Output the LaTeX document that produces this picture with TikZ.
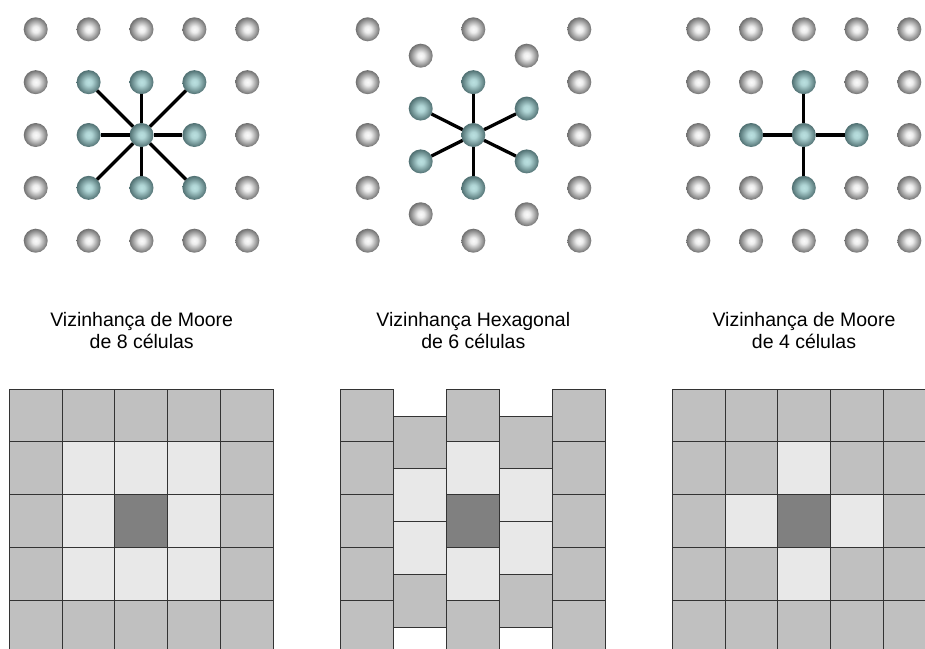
\documentclass[tikz,border=0pt]{standalone}
\usepackage{fontspec}
\setmainfont{Liberation Sans}
\usepackage{tikz}
\definecolor{rim}{RGB}{112,112,112}
\definecolor{core}{RGB}{250,250,250}
\definecolor{tcore}{RGB}{186,224,224}
\definecolor{trim}{RGB}{80,112,114}
\definecolor{cellmid}{RGB}{192,192,192}
\definecolor{celllo}{RGB}{232,232,232}
\definecolor{cellhi}{RGB}{128,128,128}
\pgfdeclareradialshading{greyball}{\pgfpoint{0bp}{0bp}}{color(0bp)=(core); color(7bp)=(core!90!rim); color(25bp)=(rim); color(50bp)=(rim)}
\pgfdeclareradialshading{tealball}{\pgfpoint{0bp}{0bp}}{color(0bp)=(tcore); color(7bp)=(tcore!90!trim); color(25bp)=(trim); color(50bp)=(trim)}

\begin{document}
\begin{tikzpicture}[x=1pt,y=-1pt,
gd/.style={circle,inner sep=0pt,outer sep=0pt,minimum size=24pt,shade,shading=greyball},
td/.style={gd,shading=tealball},
ln/.style={line width=3.3pt,black},
cl/.style={draw=black!80,line width=1pt},
lb/.style={align=center,font=\fontsize{19.5}{22}\selectfont,inner sep=0pt}]
\useasboundingbox (0,0) rectangle (925,648);
\clip (0,0) rectangle (925,648);
% Moore, 8 cells
\foreach \i in {1,...,5}\foreach \j in {1,...,5}{
\pgfmathtruncatemacro\k{max(abs(\i-3),abs(\j-3))}
\ifnum\k<2 \def\sty{td}\else\def\sty{gd}\fi
\node[\sty] (m\i\j) at (35.7+52.9*\i-52.9,29.3+52.85*\j-52.85) {};}
\foreach \i/\j in {2/2,3/2,4/2,2/3,4/3,2/4,3/4,4/4}{\draw[ln] (m33)--(m\i\j);}
% hexagonal, 6 cells
\foreach \i/\x in {1/367.7,3/473.3,5/579.3}\foreach \j in {1,...,5}{
\pgfmathtruncatemacro\k{\i==3 && abs(\j-3)<2}
\ifnum\k=1 \def\sty{td}\else\def\sty{gd}\fi
\node[\sty] (h\i\j) at (\x,29.3+52.85*\j-52.85) {};}
\foreach \i/\x in {2/420.7,4/526.7}\foreach \j in {1,...,4}{
\pgfmathtruncatemacro\k{abs(\j-2.5)<1}
\ifnum\k=1 \def\sty{td}\else\def\sty{gd}\fi
\node[\sty] (h\i\j) at (\x,55.7+52.85*\j-52.85) {};}
\foreach \i/\j in {3/2,3/4,2/2,2/3,4/2,4/3}{\draw[ln] (h33)--(h\i\j);}
% Moore, 4 cells
\foreach \i in {1,...,5}\foreach \j in {1,...,5}{
\pgfmathtruncatemacro\k{abs(\i-3)+abs(\j-3)}
\ifnum\k<2 \def\sty{td}\else\def\sty{gd}\fi
\node[\sty] (n\i\j) at (698.3+52.75*\i-52.75,29.3+52.85*\j-52.85) {};}
\foreach \i/\j in {3/2,2/3,4/3,3/4}{\draw[ln] (n33)--(n\i\j);}
% labels
\node[lb] (t1) at (141.7,331) {Vizinhança de Moore\\de 8 células};
\node[lb] (t2) at (473.3,331) {Vizinhança Hexagonal\\de 6 células};
\node[lb] (t3) at (804,331) {Vizinhança de Moore\\de 4 células};
% cell grids
\foreach \i in {1,...,5}\foreach \j in {1,...,5}{
\pgfmathtruncatemacro\k{max(abs(\i-3),abs(\j-3))}
\ifcase\k \def\c{cellhi}\or\def\c{celllo}\else\def\c{cellmid}\fi
\filldraw[cl,fill=\c] (9.3+52.8*\i-52.8,389+52.9*\j-52.9) rectangle ++(52.8,52.9);}
\foreach \i in {1,3,5}\foreach \j in {1,...,5}{
\pgfmathtruncatemacro\k{\i==3 ? abs(\j-3) : 2}
\ifcase\k \def\c{cellhi}\or\def\c{celllo}\else\def\c{cellmid}\fi
\filldraw[cl,fill=\c] (340+53*\i-53,389+52.9*\j-52.9) rectangle ++(53,52.9);}
\foreach \i in {2,4}\foreach \j in {1,...,4}{
\pgfmathtruncatemacro\k{abs(\j-2.5)<1 ? 1 : 2}
\ifcase\k \def\c{cellhi}\or\def\c{celllo}\else\def\c{cellmid}\fi
\filldraw[cl,fill=\c] (340+53*\i-53,416+52.9*\j-52.9) rectangle ++(53,52.9);}
\foreach \i in {1,...,5}\foreach \j in {1,...,5}{
\pgfmathtruncatemacro\k{min(abs(\i-3)+abs(\j-3),2)}
\ifcase\k \def\c{cellhi}\or\def\c{celllo}\else\def\c{cellmid}\fi
\filldraw[cl,fill=\c] (672.3+52.7*\i-52.7,389+52.9*\j-52.9) rectangle ++(52.7,52.9);}
\end{tikzpicture}
\end{document}
